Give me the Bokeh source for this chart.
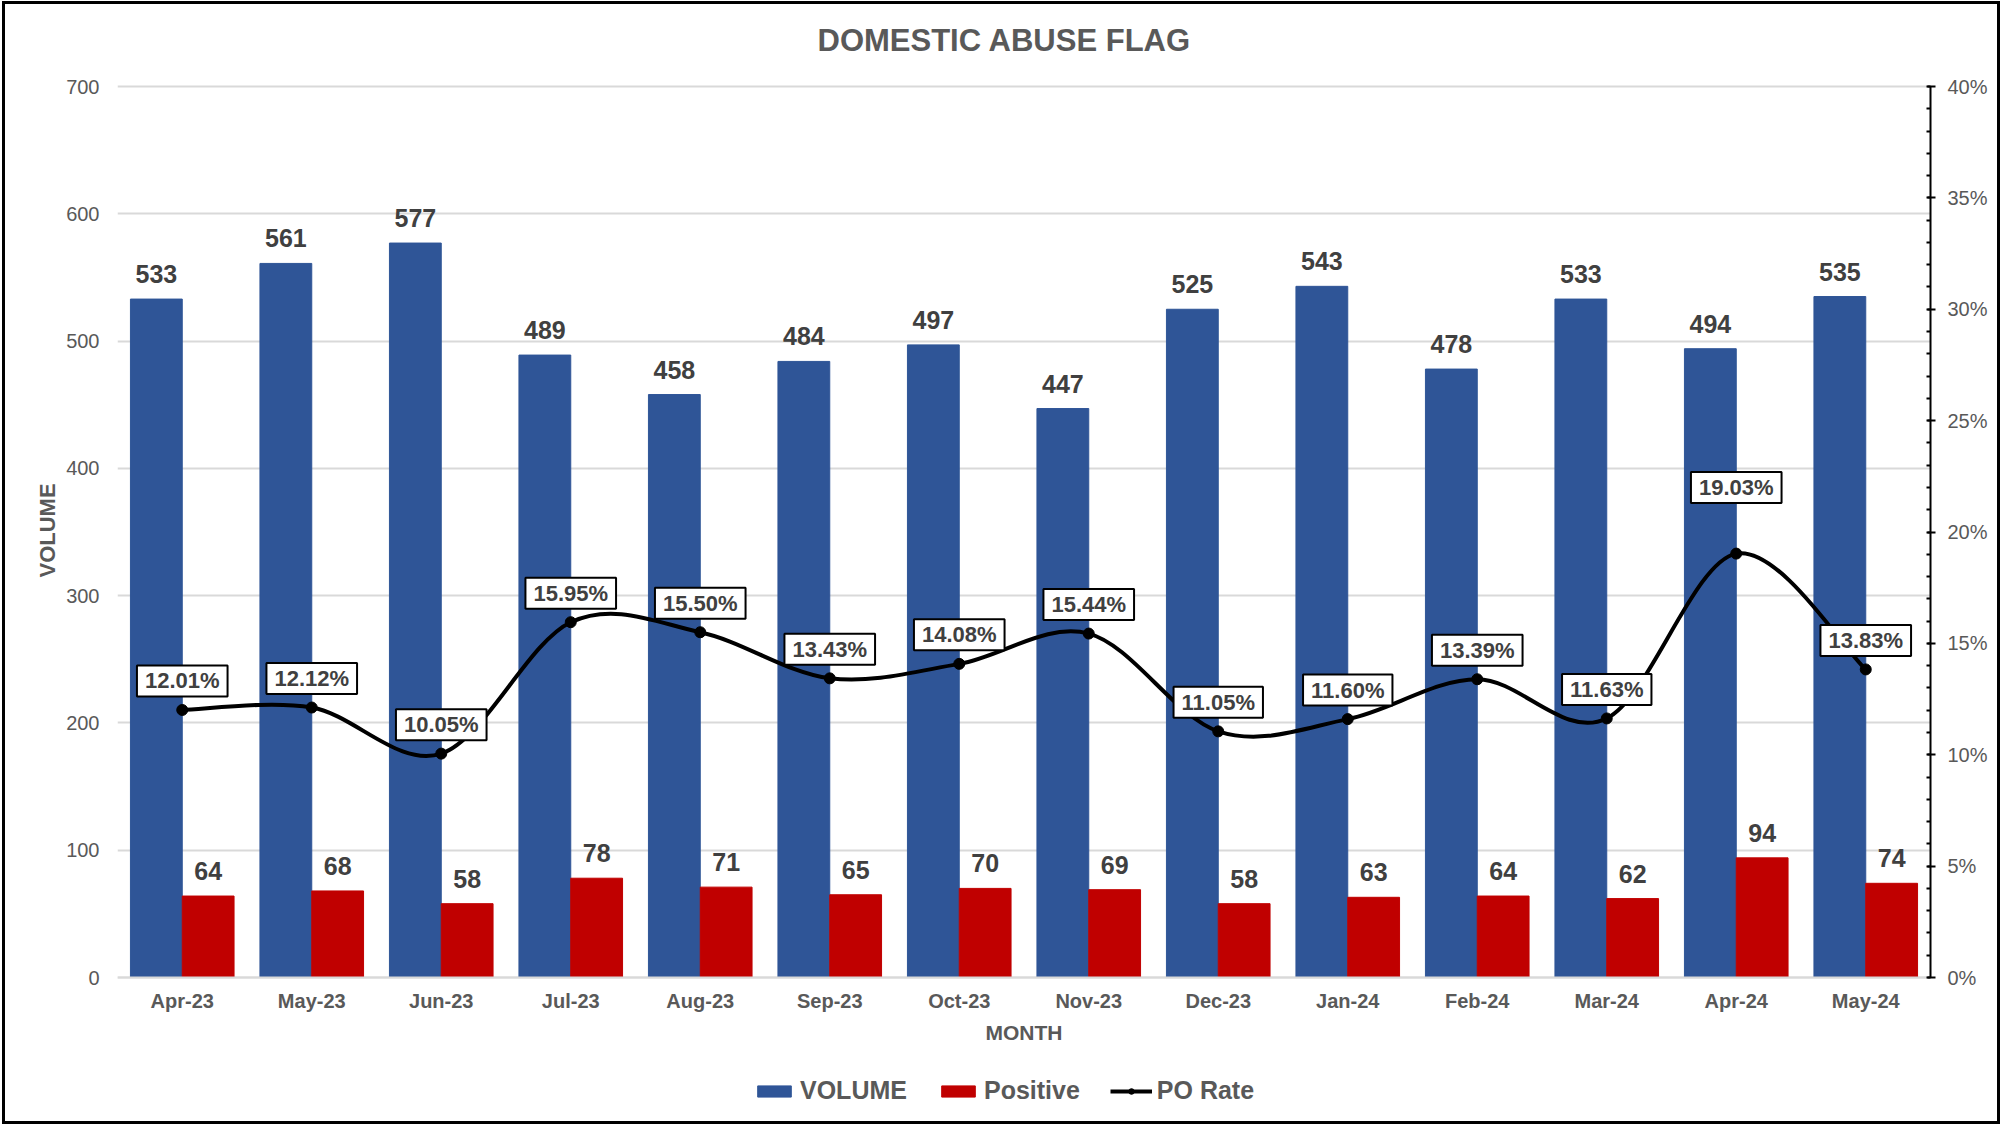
from bokeh.plotting import figure
from bokeh.models import (ColumnDataSource, Range1d, LinearAxis, FixedTicker,
                          PrintfTickFormatter, LabelSet, Label, Legend, LegendItem,
                          Title)
from bokeh.transform import dodge
from bokeh.core.properties import value
from bokeh.embed import file_html
from bokeh.resources import INLINE

# ---------------- data ----------------
months = ["Apr-23", "May-23", "Jun-23", "Jul-23", "Aug-23", "Sep-23", "Oct-23",
          "Nov-23", "Dec-23", "Jan-24", "Feb-24", "Mar-24", "Apr-24", "May-24"]
volume = [533, 561, 577, 489, 458, 484, 497, 447, 525, 543, 478, 533, 494, 535]
positive = [64, 68, 58, 78, 71, 65, 70, 69, 58, 63, 64, 62, 94, 74]
po_rate = [12.01, 12.12, 10.05, 15.95, 15.50, 13.43, 14.08, 15.44, 11.05,
           11.60, 13.39, 11.63, 19.03, 13.83]
vol_ticks = [0, 100, 200, 300, 400, 500, 600, 700]
rate_ticks = [0, 5, 10, 15, 20, 25, 30, 35, 40]

# label lift (style, screen px above point)
rate_label_lift = [29, 29, 29, 29, 29, 29, 29, 29, 29, 29, 29, 29, 66, 29]

FONT = "Liberation Sans"
GRAY = "#595959"
DARK = "#404040"
BLUE = "#2F5597"
RED = "#C00000"
GRID = "#D9D9D9"

# ---------------- layout (pixels) ----------------
W, H = 1992, 1117
BL, BR, BT, BB = 112, 67, 0, 8
frame_h = H - BT - BB          # frame spans the full height minus bottom border
top_px = 82                    # frame top -> 700 line
axis_px = 891                  # 700 line -> 0 line
vmax, rmax = 700, 40
ppu = axis_px / vmax           # pixels per volume unit
v_hi = vmax + top_px / ppu
v_lo = -(frame_h - top_px - axis_px) / ppu
r_hi = v_hi * rmax / vmax
r_lo = v_lo * rmax / vmax

n = len(months)
centers = [i + 0.5 for i in range(n)]

src = ColumnDataSource(dict(
    x=centers, vol=volume, pos=positive, rate=po_rate,
    vol_txt=[str(v) for v in volume],
    pos_txt=[str(v) for v in positive],
    month=months, zero=[0] * n,
))

p = figure(width=W, height=H, output_backend="svg", toolbar_location=None,
           x_range=Range1d(0, n), y_range=Range1d(v_lo, v_hi),
           min_border_left=BL, min_border_right=BR,
           min_border_top=BT, min_border_bottom=BB)
p.extra_y_ranges = {"rate": Range1d(r_lo, r_hi)}
p.outline_line_color = None
p.background_fill_color = "white"
p.border_fill_color = "white"
p.styles = {"margin": "4px 0px 0px 5px", "outline": "3px solid black"}
p.title.visible = False

# chart title
p.add_layout(Label(x=0, y=vmax, x_offset=700, y_offset=46,
                   text="DOMESTIC ABUSE FLAG", text_align="left",
                   text_baseline="middle", text_font=FONT, text_font_size="31px",
                   text_font_style="bold", text_color=GRAY))

# bars
vb = p.vbar(x=dodge("x", -0.2, range=p.x_range), top="vol", width=0.4, bottom=0,
            source=src, fill_color=BLUE, line_color=BLUE, line_width=1)
rb = p.vbar(x=dodge("x", 0.2, range=p.x_range), top="pos", width=0.4, bottom=0,
            source=src, fill_color=RED, line_color=RED, line_width=1)

# baseline (category axis line)
p.segment(x0=[0], y0=[0], x1=[n], y1=[0], line_color=GRID, line_width=2)

# smoothed rate line (cardinal spline -> cubic bezier segments)
pts = list(zip(centers, po_rate))
bz = dict(x0=[], y0=[], x1=[], y1=[], cx0=[], cy0=[], cx1=[], cy1=[])
for i in range(n - 1):
    p0 = pts[i - 1] if i > 0 else pts[i]
    p1 = pts[i]
    p2 = pts[i + 1]
    p3 = pts[i + 2] if i + 2 < n else pts[i + 1]
    bz["x0"].append(p1[0]); bz["y0"].append(p1[1])
    bz["x1"].append(p2[0]); bz["y1"].append(p2[1])
    bz["cx0"].append(p1[0] + (p2[0] - p0[0]) / 6.0)
    bz["cy0"].append(p1[1] + (p2[1] - p0[1]) / 6.0)
    bz["cx1"].append(p2[0] - (p3[0] - p1[0]) / 6.0)
    bz["cy1"].append(p2[1] - (p3[1] - p1[1]) / 6.0)
bsrc = ColumnDataSource(bz)
bez = p.bezier(x0="x0", y0="y0", x1="x1", y1="y1", cx0="cx0", cy0="cy0",
               cx1="cx1", cy1="cy1", source=bsrc, y_range_name="rate",
               line_color="black", line_width=4)
sc = p.scatter(x="x", y="rate", source=src, y_range_name="rate", marker="circle",
               size=11, fill_color="black", line_color="black")

# bar value labels
for col, txt, off in (("vol", "vol_txt", -0.2), ("pos", "pos_txt", 0.2)):
    p.add_layout(LabelSet(x=dodge("x", off, range=p.x_range), y=col, text=txt,
                          source=src, y_offset=25, text_align="center",
                          text_baseline="middle", text_font=value(FONT),
                          text_font_size=value("25px"),
                          text_font_style=value("bold"),
                          text_color=DARK))

# rate labels (boxed)
for xc, r, lift in zip(centers, po_rate, rate_label_lift):
    p.add_layout(Label(x=xc, y=r, y_range_name="rate", text=f"{r:.2f}%",
                       y_offset=lift, text_align="center",
                       text_baseline="middle", text_font=FONT,
                       text_font_size="22px", text_font_style="bold",
                       text_color=DARK, background_fill_color="white",
                       border_line_color="black", border_line_width=2,
                       padding=(8, 3)))

# category labels + axis title (below the 0 line)
p.add_layout(LabelSet(x="x", y="zero", text="month", source=src, y_offset=-23,
                      text_align="center", text_baseline="middle",
                      text_font=value(FONT), text_font_size=value("20px"),
                      text_font_style=value("bold"), text_color=GRAY))
p.add_layout(Label(x=n / 2, y=0, text="MONTH", y_offset=-55, text_align="center",
                   text_baseline="middle", text_font=FONT, text_font_size="21px",
                   text_font_style="bold", text_color=GRAY))

# axes
p.xaxis.visible = False

ya = p.yaxis[0]
ya.ticker = FixedTicker(ticks=vol_ticks)
ya.bounds = (0, vmax)
ya.axis_line_color = None
ya.major_tick_line_color = None
ya.minor_tick_line_color = None
ya.major_label_text_font = FONT
ya.major_label_text_font_size = "20px"
ya.major_label_text_color = GRAY
ya.major_label_standoff = 12

# vertical axis title, placed in the left panel
p.add_layout(Title(text="VOLUME", align="left", offset=536, standoff=8,
                   text_font=FONT, text_font_size="22px", text_font_style="bold",
                   text_color=GRAY), "left")

ra = LinearAxis(y_range_name="rate",
                ticker=FixedTicker(ticks=rate_ticks,
                                   minor_ticks=list(range(0, rmax + 1, 1))),
                formatter=PrintfTickFormatter(format="%d%%"),
                bounds=(0, rmax))
ra.axis_line_color = "black"
ra.axis_line_width = 2
ra.major_tick_line_color = "black"
ra.major_tick_line_width = 2
ra.major_tick_in = 3
ra.major_tick_out = 5
ra.minor_tick_line_color = "black"
ra.minor_tick_line_width = 2
ra.minor_tick_in = 4
ra.minor_tick_out = 0
ra.major_label_text_font = FONT
ra.major_label_text_font_size = "20px"
ra.major_label_text_color = GRAY
ra.major_label_standoff = 12
p.add_layout(ra, "right")

p.xgrid.grid_line_color = None
p.ygrid.grid_line_color = GRID
p.ygrid.grid_line_width = 2

legend = Legend(items=[LegendItem(label="VOLUME", renderers=[vb]),
                       LegendItem(label="Positive", renderers=[rb]),
                       LegendItem(label="PO Rate", renderers=[bez, sc])],
                orientation="horizontal", location=(636, 8),
                glyph_width=42, glyph_height=14, label_standoff=5, spacing=30,
                padding=0, margin=0, border_line_color=None,
                background_fill_alpha=0,
                label_text_font=FONT, label_text_font_style="bold",
                label_text_font_size="25px", label_text_color=GRAY)
p.add_layout(legend)

open("out.html", "w").write(file_html(p, INLINE))
